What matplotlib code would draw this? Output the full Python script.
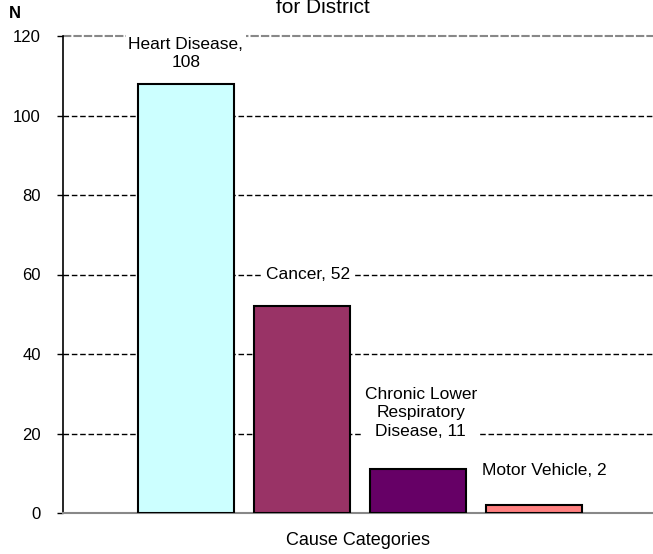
import matplotlib.pyplot as plt

plt.rcParams['font.family'] = ['Liberation Sans', 'DejaVu Sans']

# chart data
causes = ['Heart Disease', 'Cancer', 'Chronic Lower\nRespiratory\nDisease', 'Motor Vehicle']
counts = [108, 52, 11, 2]
colors = ['#ccffff', '#993366', '#660066', '#ff8080']
yticks = [0, 20, 40, 60, 80, 100, 120]

fig = plt.figure(figsize=(6.53, 5.54), dpi=100)
ax = fig.add_axes([63/653, 1-513/554, 1-63/653, 477/554])

xs = list(range(len(causes)))
ax.bar(xs, counts, width=0.83, color=colors, edgecolor='black', linewidth=1.5, zorder=3)

ax.set_xlim(-1.06, 4.03)
ax.set_ylim(0, 120)
ax.set_yticks(yticks)
ax.set_xticks([])
ax.tick_params(axis='y', length=4, width=1, labelsize=12, pad=12)

# gridlines
for v in yticks[1:-1]:
    ax.axhline(v, color='black', linestyle=(0, (4, 2)), linewidth=1, zorder=1)
ax.axhline(120, color='#888888', linestyle=(0, (4, 1)), linewidth=1.5, zorder=1, clip_on=False)

for s in ['top', 'right']:
    ax.spines[s].set_visible(False)
ax.spines['left'].set_linewidth(1.2)
ax.spines['bottom'].set_color('#888888')
ax.spines['bottom'].set_linewidth(1.5)

# data labels
box = dict(facecolor='white', edgecolor='none', pad=2)
lbl = dict(ha='center', va='center', fontsize=12.5, bbox=box, zorder=4, linespacing=1.3)
ax.text(0, 115.6, 'Heart Disease,\n108', **lbl)
ax.text(1.056, 60, 'Cancer, 52', **lbl)
ax.text(2.026, 25.2, 'Chronic Lower\nRespiratory\nDisease, 11', **lbl)
ax.text(3.09, 10.6, 'Motor Vehicle, 2', **lbl)

ax.set_xlabel('Cause Categories', fontsize=13, labelpad=14)
fig.text(15/653, 1-14/554, 'N', fontsize=12, fontweight='bold', ha='center', va='center')
fig.text(323/653, 1-13/554, 'for District', fontsize=15, ha='center', va='baseline')

plt.savefig('out.png', dpi=100)
